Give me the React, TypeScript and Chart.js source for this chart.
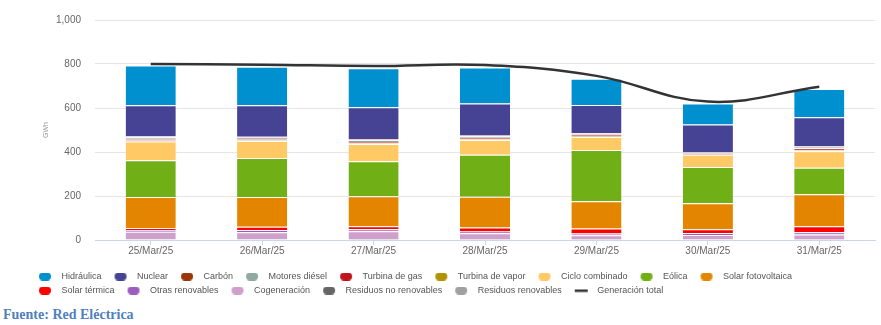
import React, { useEffect, useRef } from "react";
import { Chart, registerables } from "chart.js";

Chart.register(...registerables);

const categories = ["25/Mar/25", "26/Mar/25", "27/Mar/25", "28/Mar/25", "29/Mar/25", "30/Mar/25", "31/Mar/25"];

const hidraulica = [181, 176, 178, 164, 119, 95, 128];
const nuclear = [142, 143, 144, 145, 128, 126, 131];
const carbon = [3, 3, 6, 3, 2, 2, 3];
const motoresDiesel = [7, 7, 7, 7, 6, 5, 7];
const turbinaGas = [8, 6, 6, 7, 6, 3, 8];
const turbinaVapor = [4, 3, 4, 4, 4, 2, 6];
const cicloCombinado = [86, 77, 78, 67, 59, 55, 75];
const eolica = [167, 178, 159, 190, 233, 165, 120];
const solarFV = [141, 135, 136, 140, 124, 118, 146];
const solarTermica = [8, 15, 14, 18, 23, 17, 27];
const otrasRenovables = [8, 10, 9, 8, 7, 9, 10];
const cogeneracion = [33, 30, 36, 27, 18, 20, 21];
const residuosNoRenovables = [3, 3, 3, 3, 3, 2, 3];
const residuosRenovables = [2, 2, 1, 1, 1, 1, 1];
const generacionTotal = [800, 797, 791, 795, 746, 629, 697];

const yTicks = [0, 200, 400, 600, 800, 1000];

// stacked bottom-to-top
const barSeries = [
  { label: "Residuos renovables", data: residuosRenovables, color: "#a0a0a0" },
  { label: "Residuos no renovables", data: residuosNoRenovables, color: "#666666" },
  { label: "Cogeneración", data: cogeneracion, color: "#cfa0cb" },
  { label: "Otras renovables", data: otrasRenovables, color: "#9c5cc0" },
  { label: "Solar térmica", data: solarTermica, color: "#ff0000" },
  { label: "Solar fotovoltaica", data: solarFV, color: "#e48500" },
  { label: "Eólica", data: eolica, color: "#70b016" },
  { label: "Ciclo combinado", data: cicloCombinado, color: "#ffc966" },
  { label: "Turbina de vapor", data: turbinaVapor, color: "#b39200" },
  { label: "Turbina de gas", data: turbinaGas, color: "#c0141e" },
  { label: "Motores diésel", data: motoresDiesel, color: "#8fa9a0" },
  { label: "Carbón", data: carbon, color: "#9a3609" },
  { label: "Nuclear", data: nuclear, color: "#474394" },
  { label: "Hidráulica", data: hidraulica, color: "#0090d0" },
];

function makeMarker(color: string, isLine: boolean): HTMLCanvasElement {
  const c = document.createElement("canvas");
  c.width = 26;
  c.height = 8;
  const ctx = c.getContext("2d")!;
  ctx.fillStyle = color;
  if (isLine) {
    ctx.fillRect(8, 3, 13, 2.5);
  } else {
    ctx.beginPath();
    ctx.moveTo(12, 0);
    ctx.lineTo(16, 0);
    ctx.arc(16, 4, 4, -Math.PI / 2, Math.PI / 2);
    ctx.lineTo(12, 8);
    ctx.arc(12, 4, 4, Math.PI / 2, (3 * Math.PI) / 2);
    ctx.closePath();
    ctx.fill();
  }
  return c;
}

export default function App() {
  const ref = useRef<HTMLCanvasElement | null>(null);

  useEffect(() => {
    if (!ref.current) return;
    const markers: HTMLCanvasElement[] = [makeMarker("#333333", true)];
    barSeries.forEach((s) => markers.push(makeMarker(s.color, false)));

    const datasets: any[] = [
      {
        type: "line",
        label: "Generación total",
        data: generacionTotal,
        borderColor: "#333333",
        backgroundColor: "#333333",
        borderWidth: 2.5,
        pointRadius: 0,
        tension: 0.4,
        stack: "total",
        fill: false,
      },
      ...barSeries.map((s) => ({
        type: "bar",
        label: s.label,
        data: s.data,
        backgroundColor: s.color,
        borderColor: "rgba(255,255,255,0.85)",
        borderWidth: { top: 1, bottom: 0, left: 0, right: 0 },
        borderSkipped: false,
        stack: "gen",
        barPercentage: 0.45,
        categoryPercentage: 1,
      })),
    ];

    const chart = new Chart(ref.current, {
      type: "bar",
      data: { labels: categories, datasets },
      options: {
        animation: false,
        responsive: false,
        devicePixelRatio: 1,
        layout: { padding: { left: 26, right: 6, top: 18, bottom: 0 } },
        plugins: {
          tooltip: { enabled: false },
          legend: {
            position: "bottom",
            align: "start",
            reverse: true,
            labels: {
              usePointStyle: true,
              pointStyleWidth: 26,
              padding: 5,
              color: "#555555",
              font: { family: "'Liberation Sans', Arial, sans-serif", size: 9 },
              generateLabels: (ch: any) => {
                const items = Chart.defaults.plugins.legend.labels.generateLabels(ch);
                return items.map((it: any) => ({ ...it, pointStyle: markers[it.datasetIndex] }));
              },
            },
          },
        },
        scales: {
          x: {
            stacked: true,
            grid: {
              drawOnChartArea: false,
              drawTicks: true,
              tickLength: 5,
              color: "#ccd6eb",
              offset: false,
            },
            border: { color: "#ccd6eb" },
            ticks: {
              color: "#666666",
              padding: 0,
              font: { family: "'Liberation Sans', Arial, sans-serif", size: 10 },
              maxRotation: 0,
            },
            afterFit: (s: any) => {
              s.height = 27;
            },
          },
          y: {
            stacked: true,
            min: 0,
            max: 1000,
            afterBuildTicks: (s: any) => {
              s.ticks = yTicks.map((v) => ({ value: v }));
            },
            grid: { color: "#e6e6e6", drawTicks: false },
            border: { display: false },
            ticks: {
              color: "#666666",
              padding: 14,
              font: { family: "'Liberation Sans', Arial, sans-serif", size: 10 },
              callback: (v: any) => Number(v).toLocaleString("en-US"),
            },
            title: {
              display: true,
              text: "GWh",
              color: "#999999",
              font: { family: "'Liberation Sans', Arial, sans-serif", size: 7 },
              padding: { top: 16, bottom: 0 },
            },
            afterFit: (s: any) => {
              s.width = 69;
            },
          },
        },
      },
    });
    return () => chart.destroy();
  }, []);

  return (
    <div style={{ position: "absolute", left: 0, top: 0, width: 881, height: 325, background: "#fff" }}>
      <canvas ref={ref} width={881} height={305} style={{ display: "block", width: 881, height: 305 }} />
      <div
        style={{
          position: "absolute",
          left: 3,
          top: 308,
          fontFamily: "'Liberation Serif', 'DejaVu Serif', serif",
          fontWeight: "bold",
          fontSize: 14,
          lineHeight: "14px",
          color: "#4f7fbf",
          whiteSpace: "nowrap",
        }}
      >
        Fuente: Red Eléctrica
      </div>
    </div>
  );
}
